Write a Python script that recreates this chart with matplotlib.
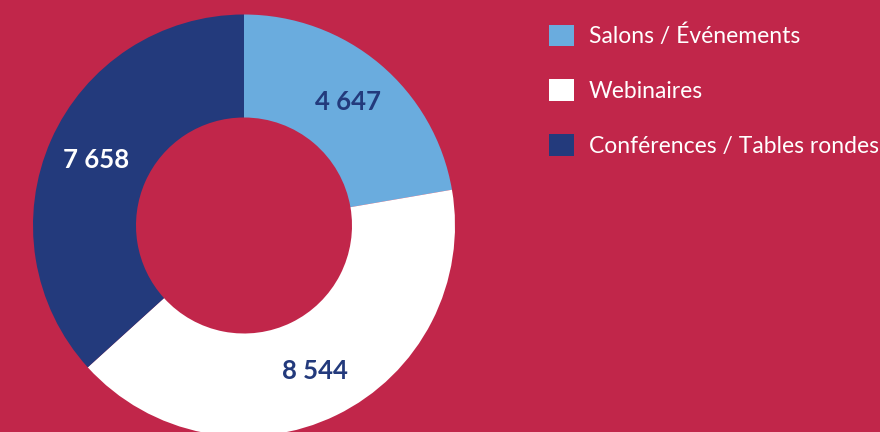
import numpy as np
import matplotlib
matplotlib.use("Agg")
from matplotlib import pyplot as plt

categories = ["Salons / Événements", "Webinaires", "Conférences / Tables rondes"]
values = [4647, 8544, 7658]
value_labels = ["4 647", "8 544", "7 658"]

bg = "#C1264A"
colors = ["#6AACDE", "#FFFFFF", "#233A7C"]
label_colors = ["#233A7C", "#233A7C", "#FFFFFF"]

plt.rcParams["font.family"] = ["Lato", "DejaVu Sans"]

fig = plt.figure(figsize=(8.8, 4.32), dpi=100, facecolor=bg)
ax = fig.add_axes([0, 0, 1, 1])
ax.set_facecolor(bg)

# donut in pixel coordinates
cx, cy, R = 244, 206.5, 211
wedges, _ = ax.pie(values, colors=colors, startangle=90, counterclock=False,
                   center=(cx, cy), radius=R,
                   wedgeprops=dict(width=R - 108, linewidth=0))

for w, txt, col in zip(wedges, value_labels, label_colors):
    mid = np.deg2rad((w.theta1 + w.theta2) / 2)
    r = 0.765 * R
    ax.text(cx + r * np.cos(mid), cy + r * np.sin(mid), txt, color=col,
            fontsize=18.5, fontweight="bold", ha="center", va="center")

ax.set_xlim(0, 880)
ax.set_ylim(0, 432)
ax.set_aspect("equal")
ax.axis("off")

leg = ax.legend(wedges, categories, loc="upper left",
                bbox_to_anchor=(549 / 880, 1 - 24.5 / 432), frameon=False,
                fontsize=16.5, handlelength=1.09, handleheight=1.09,
                handletextpad=0.65, labelspacing=1.4, borderpad=0,
                borderaxespad=0)
for t in leg.get_texts():
    t.set_color("white")

fig.savefig("out.png", dpi=100, facecolor=bg)
